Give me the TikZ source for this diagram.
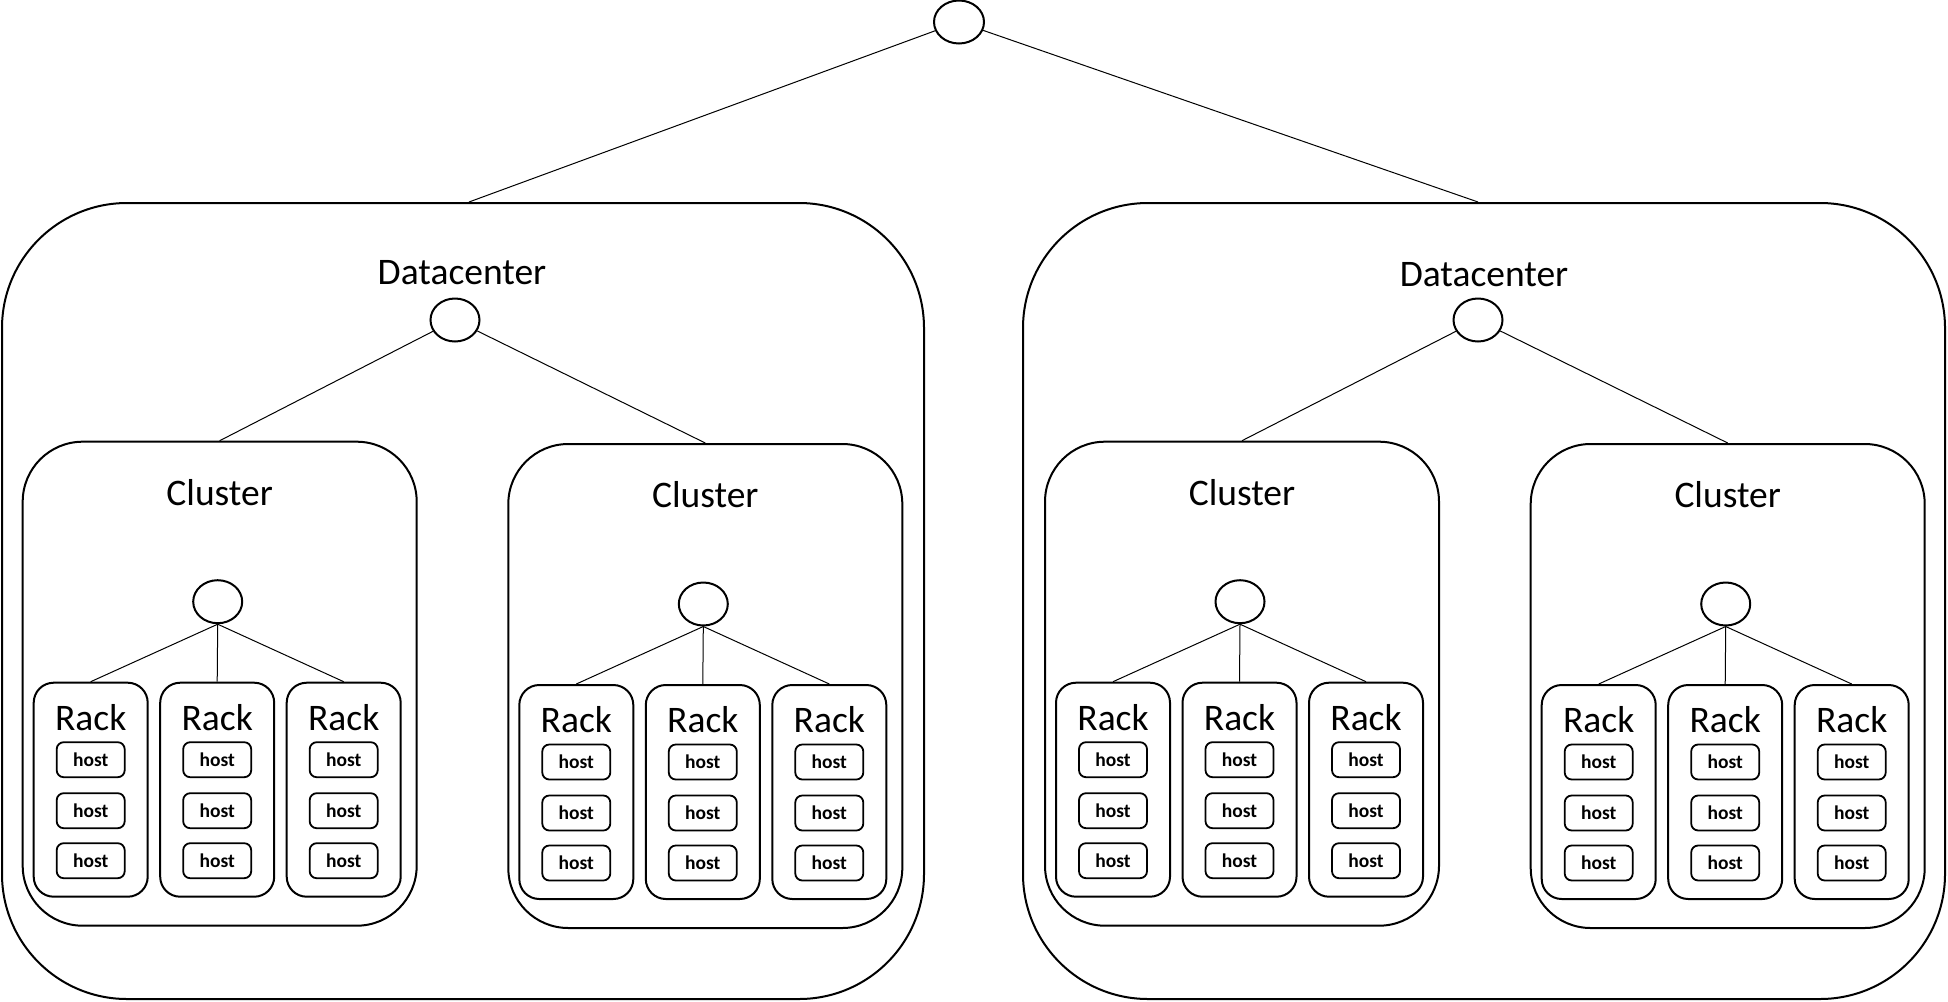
\documentclass[tikz,border=0pt]{standalone}
\usepackage{fontspec}
\setmainfont{Carlito}
\usetikzlibrary{shapes.geometric}
\tikzset{
  bx/.style={draw=black, line width=2pt, inner sep=0pt, rectangle},
  dcbox/.style={bx, rounded corners=125pt, minimum width=922pt, minimum height=796pt},
  clbox/.style={bx, rounded corners=60pt, minimum width=394pt, minimum height=484pt},
  rackbox/.style={bx, rounded corners=20pt, minimum width=114pt, minimum height=214pt},
  hostbox/.style={bx, line width=1.8pt, rounded corners=7pt, minimum width=68pt, minimum height=35pt, font=\fontsize{19.5}{21}\selectfont\bfseries},
  sw/.style={draw=black, line width=2pt, ellipse, inner sep=0pt, minimum width=49pt, minimum height=43pt},
  biglbl/.style={inner sep=0pt, font=\fontsize{37.5}{40}\selectfont},
  link/.style={draw=black, line width=1pt}
}
\newcommand{\drawcluster}[3]{%
  \begin{scope}[shift={(#2,#3)}]
    \node[clbox] (#1) at (197,242) {};
    \node[biglbl] (#1lab) at (197,51) {Cluster};
    \node[sw] (#1s) at (195,160) {};
    \foreach \i/\cx in {1/68, 2/194.5, 3/321} {
      \node[rackbox] (#1r\i) at (\cx,348) {};
      \node[biglbl] (#1rl\i) at (\cx,276) {Rack};
      \foreach \j/\hy in {1/318, 2/369, 3/419} {
        \node[hostbox] (#1h\i\j) at (\cx,\hy) {host};
      }
      \draw[link] (#1s.south) -- (#1r\i.north);
    }
  \end{scope}
}
\begin{document}
\begin{tikzpicture}[x=1pt, y=-1pt]
  \useasboundingbox (0,0) rectangle (1948,1001);
  % datacenters
  \node[dcbox] (dcL) at (463,601) {};
  \node[dcbox] (dcR) at (1484,601) {};
  \node[biglbl] (dcLlab) at (462,273) {Datacenter};
  \node[biglbl] (dcRlab) at (1484,275) {Datacenter};
  \node[sw] (dcLs) at (455,320) {};
  \node[sw] (dcRs) at (1478,320) {};
  % root
  \node[sw, minimum width=50pt] (root) at (959,22) {};
  % clusters
  \drawcluster{cA}{22.7}{441.7}
  \drawcluster{cB}{508.3}{444}
  \drawcluster{cC}{1045}{441.7}
  \drawcluster{cD}{1530.7}{444}
  % connectors
  \draw[link] (root) -- ([xshift=6pt]dcL.north);
  \draw[link] (root) -- ([xshift=-6pt]dcR.north);
  \draw[link] (dcLs) -- (cA.north);
  \draw[link] (dcLs) -- (cB.north);
  \draw[link] (dcRs) -- (cC.north);
  \draw[link] (dcRs) -- (cD.north);
\end{tikzpicture}
\end{document}
